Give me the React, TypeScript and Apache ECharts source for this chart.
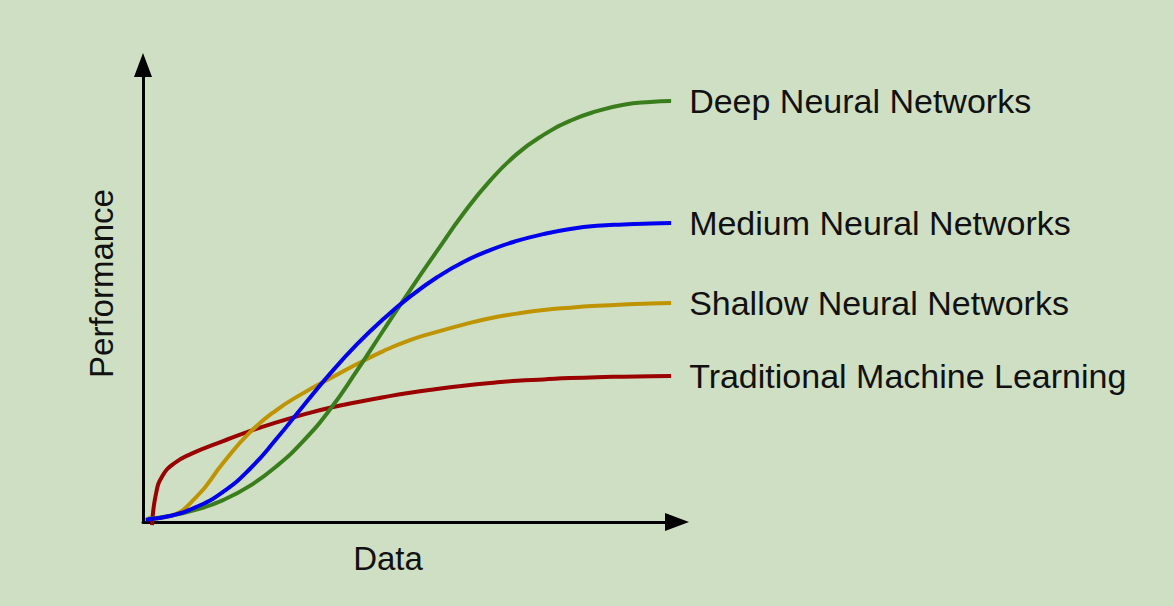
import React, { useEffect, useRef } from "react";
import * as echarts from "echarts";

const seriesNames = [
  "Traditional Machine Learning",
  "Shallow Neural Networks",
  "Deep Neural Networks",
  "Medium Neural Networks",
];
const seriesColors = ["#9a0000", "#bf9400", "#3a7d1c", "#0000ee"];

const traditionalML: [number, number][] = [
  [1.7, -0.7], [2.4, 6.0], [3.6, 10.0], [5.8, 12.8], [9, 14.9], [15, 17.7],
  [20, 19.9], [25, 21.8], [30, 23.5], [35, 25.0], [40, 26.2], [45, 27.3],
  [50, 28.3], [55, 29.1], [60, 29.8], [65, 30.4], [70, 30.9], [75, 31.2],
  [80, 31.5], [85, 31.7], [90, 31.8], [95, 31.9], [98.9, 31.95],
];
const shallowNN: [number, number][] = [
  [0.9, 0.7], [5, 1.3], [10, 5.5], [15, 12.9], [20, 19.6], [25, 24.5],
  [30, 28.2], [35, 31.4], [40, 34.5], [45, 37.4], [50, 39.8], [55, 41.6],
  [60, 43.2], [65, 44.6], [70, 45.6], [75, 46.4], [80, 46.9], [85, 47.3],
  [90, 47.6], [95, 47.8], [98.9, 47.9],
];
const mediumNN: [number, number][] = [
  [0.5, 0.5], [5, 1.3], [10, 3.3], [15, 6.6], [20, 11.6], [25, 18.2],
  [30, 25.4], [35, 32.4], [40, 38.8], [45, 44.4], [50, 49.3], [55, 53.5],
  [60, 56.9], [65, 59.5], [70, 61.5], [75, 63.0], [80, 64.1], [85, 64.8],
  [90, 65.1], [95, 65.3], [98.9, 65.4],
];
const deepNN: [number, number][] = [
  [0.9, 0.7], [5, 1.3], [10, 2.7], [15, 4.8], [20, 7.9], [25, 12.2],
  [30, 17.7], [35, 24.6], [40, 33.0], [45, 41.9], [50, 50.7], [55, 59.2],
  [60, 67.5], [65, 74.7], [70, 80.5], [75, 84.7], [80, 87.8], [85, 89.9],
  [90, 91.3], [95, 91.9], [98.9, 92.1],
];
const seriesData = [traditionalML, shallowNN, deepNN, mediumNN];

const xAxisName = "Data";
const yAxisName = "Performance";

const FONT = "'Liberation Sans', Arial, sans-serif";

export default function App() {
  const ref = useRef<HTMLDivElement>(null);
  useEffect(() => {
    if (!ref.current) return;
    const chart = echarts.init(ref.current, undefined, { renderer: "svg" });
    const axisLine = {
      show: true,
      symbol: ["none", "triangle"],
      symbolSize: [18, 24],
      lineStyle: { color: "#000", width: 3 },
    };
    chart.setOption({
      animation: false,
      backgroundColor: "#cfdfc3",
      grid: { left: 143, top: 65, width: 534, height: 457 },
      xAxis: {
        type: "value",
        min: 0,
        max: 100,
        name: xAxisName,
        nameLocation: "middle",
        nameGap: 20,
        nameTextStyle: {
          fontSize: 33,
          color: "#111",
          fontFamily: FONT,
          padding: [0, 44, 0, 0],
        },
        axisLine,
        axisTick: { show: false },
        axisLabel: { show: false },
        splitLine: { show: false },
      },
      yAxis: {
        type: "value",
        min: 0,
        max: 100,
        name: yAxisName,
        nameLocation: "middle",
        nameGap: 25,
        nameTextStyle: {
          fontSize: 33,
          color: "#111",
          fontFamily: FONT,
          padding: [0, 0, 0, 20],
        },
        axisLine,
        axisTick: { show: false },
        axisLabel: { show: false },
        splitLine: { show: false },
      },
      series: seriesNames.map((name, i) => ({
        name,
        type: "line",
        data: seriesData[i],
        smooth: 0.5,
        showSymbol: false,
        clip: false,
        z: 2 + i,
        lineStyle: { color: seriesColors[i], width: 4 },
        itemStyle: { color: seriesColors[i] },
        endLabel: {
          show: true,
          formatter: "{a}",
          distance: 18,
          fontSize: 34,
          color: "#111",
          fontFamily: FONT,
        },
      })),
    });
    return () => chart.dispose();
  }, []);
  return (
    <div
      ref={ref}
      style={{ position: "fixed", left: 0, top: 0, width: 1174, height: 606 }}
    />
  );
}
